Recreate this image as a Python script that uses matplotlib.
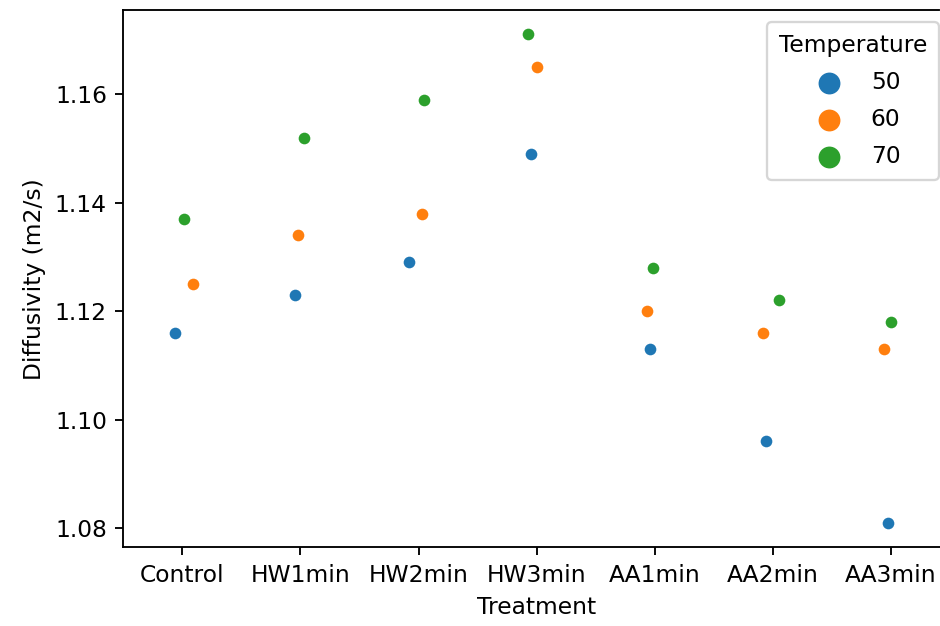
import matplotlib
matplotlib.use("Agg")
import matplotlib.pyplot as plt
import numpy as np

treatments = ["Control", "HW1min", "HW2min", "HW3min", "AA1min", "AA2min", "AA3min"]
temperatures = ["50", "60", "70"]

diff_50 = [1.116, 1.123, 1.129, 1.149, 1.113, 1.096, 1.081]
diff_60 = [1.125, 1.134, 1.138, 1.165, 1.120, 1.116, 1.113]
diff_70 = [1.137, 1.152, 1.159, 1.171, 1.128, 1.122, 1.118]

# strip-plot jitter (category units)
jitter_50 = [-0.062, -0.047, -0.082, -0.050, -0.043, -0.053, -0.021]
jitter_60 = [0.090, -0.020, 0.028, 0.003, -0.068, -0.079, -0.055]
jitter_70 = [0.014, 0.030, 0.045, -0.073, -0.018, 0.057, 0.004]

colors = ["#1f77b4", "#ff7f0e", "#2ca02c"]

dpi = 168
fig = plt.figure(figsize=(940 / dpi, 626 / dpi), dpi=dpi)
ax = fig.add_axes([0.1312, 0.1257, 0.8793, 0.8583])

x = np.arange(len(treatments))
for vals, jit, col in zip([diff_50, diff_60, diff_70], [jitter_50, jitter_60, jitter_70], colors):
    ax.scatter(x + np.array(jit), vals, s=25, color=col, linewidth=0, zorder=3)

for lab, col in zip(temperatures, colors):
    ax.scatter([], [], color=col, label=lab, s=70)

ax.set_xticks(x)
ax.set_xticklabels(treatments)
ax.set_xlim(-0.5, len(treatments) - 0.5)
ax.set_xlabel("Treatment")
ax.set_ylabel("Diffusivity (m2/s)")
ax.set_yticks([1.08, 1.10, 1.12, 1.14, 1.16])
ax.spines["right"].set_visible(False)
# the figure is cut off at the right: keep the top spine inside the canvas
ax.spines["top"].set_bounds(-0.5, 6.41)
ax.legend(title="Temperature", loc="upper right", labelspacing=0.6,
          borderpad=0.5, borderaxespad=0,
          bbox_to_anchor=(0.9865, 0.977), bbox_transform=ax.transAxes)

fig.savefig("out.png", dpi=dpi)
